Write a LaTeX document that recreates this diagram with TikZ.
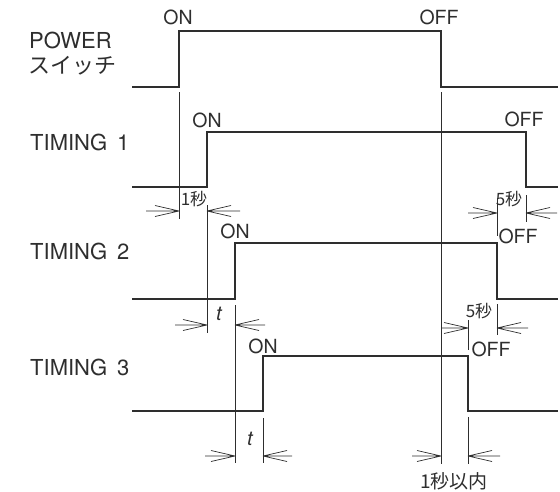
\documentclass[tikz,border=0pt]{standalone}
\usepackage{fontspec}
\setmainfont{TeX Gyre Heros}
\newfontfamily\jpfont{Noto Sans CJK JP}
\definecolor{ink}{gray}{0.18}
\tikzstyle{signal}=[draw=ink,line width=1.6pt,line join=miter]
\tikzstyle{guide}=[draw=ink,line width=0.7pt]
\tikzstyle{dim}=[draw=ink,line width=0.7pt]
\tikzstyle{title}=[text=ink,inner sep=0pt,anchor=west,font=\fontsize{22}{24}\selectfont]
\tikzstyle{label}=[text=ink,inner sep=0pt,font=\fontsize{19.5}{22}\selectfont]
\tikzstyle{jplabel}=[text=ink,inner sep=0pt,anchor=west,font=\jpfont\fontsize{22}{24}\selectfont]
\tikzstyle{small}=[text=ink,inner sep=0pt,font=\jpfont\fontsize{17}{19}\selectfont]

\begin{document}
\begin{tikzpicture}[x=1pt,y=-1pt]
    \useasboundingbox (0,0) rectangle (560,491);
    % Row titles
    \node[title] (pw-title) at (29,40) {POWER};
    \node[jplabel] (pw-jp) at (28,66) {スイッチ};
    \foreach \name/\num/\y in {ta/1/142, tb/2/251, tc/3/367}
        \node[title] (\name-title) at (30,\y) {TIMING\hspace{0.45em}\num};
    % Then the four signals
    \foreach \name/\base/\high/\rise/\fall in {pw/87/31/179/441, ta/187/132/207/526, tb/299/243/235/497, tc/411/356/263/468} {
        \coordinate (\name-in) at (132,\base);
        \coordinate (\name-up) at (\rise,\base);
        \coordinate (\name-on) at (\rise,\high);
        \coordinate (\name-off) at (\fall,\high);
        \coordinate (\name-down) at (\fall,\base);
        \coordinate (\name-out) at (558,\base);
        \path[signal] (\name-in) -- (\name-up) -- (\name-on) -- (\name-off) -- (\name-down) -- (\name-out);
    }
    % ON / OFF labels
    \foreach \pos/\name/\txt in {{(178,17)/pw-onlbl/ON}, {(439,17)/pw-offlbl/OFF}, {(207,120)/ta-onlbl/ON}, {(524,119)/ta-offlbl/OFF}, {(235,231)/tb-onlbl/ON}, {(518,236)/tb-offlbl/OFF}, {(263,346)/tc-onlbl/ON}, {(491,349)/tc-offlbl/OFF}}
        \node[label] (\name) at \pos {\txt};
    % Extension lines
    \foreach \x/\from/\to in {179/92/219, 207/205/333, 235/305/463, 263/418/463, 441/92/464, 497/198/236, 526/195/222, 468/320/350, 497/304/335, 468/417/464}
        \path[guide] (\x,\from) -- (\x,\to);
    % Dimension lines with open barbs pointing inward
    \foreach \y/\outl/\l/\r/\outr in {211/146/179/207/240, 325/175/207/235/265, 456/205/235/263/292, 213/468/497/526/557, 328/441/468/497/528, 456/412/441/468/500} {
        \coordinate (lo) at (\outl,\y);
        \coordinate (li) at (\l,\y);
        \coordinate (ri) at (\r,\y);
        \coordinate (ro) at (\outr,\y);
        \path[dim] (lo) -- (li) (li) -- ++(-24,-5.5) (li) -- ++(-24,5.5);
        \path[dim] (ro) -- (ri) (ri) -- ++(24,-5.5) (ri) -- ++(24,5.5);
    }
    % Dimension texts
    \node[small] (ta-delay) at (194,199) {1秒};
    \node[small] (ta-hold) at (509,199) {5秒};
    \node[small] (tb-hold) at (479,311) {5秒};
    \node[label,font=\fontsize{20}{22}\selectfont\itshape] (tb-delay) at (219,314) {t};
    \node[label,font=\fontsize{20}{22}\selectfont\itshape] (tc-delay) at (250,439) {t};
    \node[small,font=\jpfont\fontsize{19}{21}\selectfont] (tc-limit) at (454,481) {1秒以内};
\end{tikzpicture}
\end{document}
